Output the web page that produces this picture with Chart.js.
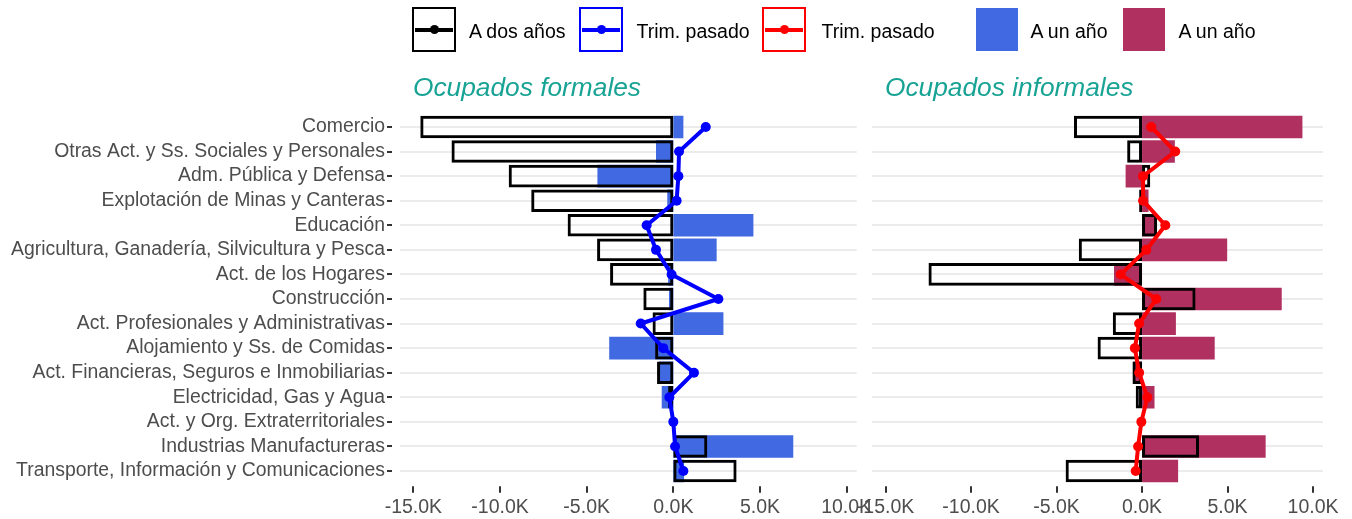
<!DOCTYPE html>
<html>
<head>
<meta charset="utf-8">
<script src="https://cdn.jsdelivr.net/npm/chart.js@4.4.1/dist/chart.umd.min.js"></script>
<style>
html,body{margin:0;padding:0;background:#fff;width:1352px;height:519px;overflow:hidden;font-family:'Liberation Sans',Arial,sans-serif;}
#wrap{position:relative;width:1352px;height:519px;}
canvas{position:absolute;left:0;top:0;}
.key{position:absolute;top:7px;width:44px;height:45px;box-sizing:border-box;}
.key.ln{border:2px solid;}
.key .bar{position:absolute;left:1px;right:1px;top:50%;height:4px;margin-top:-2px;}
.key .dot{position:absolute;left:50%;top:50%;width:9px;height:9px;margin:-4.5px 0 0 -4.5px;border-radius:50%;}
.key.sq{top:8px;width:42px;height:43px;}
.lbl{position:absolute;top:19.7px;font-size:19.5px;line-height:22px;color:#000;white-space:nowrap;}
.title{position:absolute;top:72.5px;font-size:26.3px;line-height:28px;font-style:italic;color:#18a394;white-space:nowrap;}
</style>
</head>
<body>
<div id="wrap">
  <canvas id="cF" width="1352" height="519"></canvas>
  <canvas id="cI" width="1352" height="519"></canvas>

  <div class="key ln" style="left:412px;border-color:#000;"><div class="bar" style="background:#000"></div><div class="dot" style="background:#000"></div></div>
  <div class="lbl" style="left:469px;">A dos años</div>
  <div class="key ln" style="left:579px;border-color:#0000ff;"><div class="bar" style="background:#0000ff"></div><div class="dot" style="background:#0000ff"></div></div>
  <div class="lbl" style="left:636.5px;">Trim. pasado</div>
  <div class="key ln" style="left:762px;border-color:#ff0000;"><div class="bar" style="background:#ff0000"></div><div class="dot" style="background:#ff0000"></div></div>
  <div class="lbl" style="left:821.5px;">Trim. pasado</div>
  <div class="key sq" style="left:975.5px;background:#4169e1;"></div>
  <div class="lbl" style="left:1030.5px;">A un año</div>
  <div class="key sq" style="left:1123px;background:#b03060;"></div>
  <div class="lbl" style="left:1178.5px;">A un año</div>

  <div class="title" style="left:413px;">Ocupados formales</div>
  <div class="title" style="left:885px;">Ocupados informales</div>
</div>
<script>
// ---------- DATA (thousands of persons) ----------
const categories = [
  'Comercio',
  'Otras Act. y Ss. Sociales y Personales',
  'Adm. Pública y Defensa',
  'Explotación de Minas y Canteras',
  'Educación',
  'Agricultura, Ganadería, Silvicultura y Pesca',
  'Act. de los Hogares',
  'Construcción',
  'Act. Profesionales y Administrativas',
  'Alojamiento y Ss. de Comidas',
  'Act. Financieras, Seguros e Inmobiliarias',
  'Electricidad, Gas y Agua',
  'Act. y Org. Extraterritoriales',
  'Industrias Manufactureras',
  'Transporte, Información y Comunicaciones'
];
const formalUnAno   = [0.58, -1.0, -4.38, -0.35, 4.62, 2.5, -0.3, -0.25, 2.89, -3.7, -0.83, -0.67, 0, 6.92, 0.62];
const formalDosAnos = [-14.6, -12.8, -9.5, -8.2, -6.1, -4.4, -3.65, -1.73, -1.2, -1.05, -0.94, -0.3, 0, 1.96, 3.65];
const formalTrim    = [1.87, 0.33, 0.29, 0.19, -1.54, -1.0, -0.1, 2.6, -1.88, -0.58, 1.19, -0.23, 0.0, 0.1, 0.58];

const informalUnAno   = [9.38, 1.92, -0.96, 0.38, 0.79, 4.98, -1.64, 8.17, 1.98, 4.25, -0.5, 0.73, 0, 7.23, 2.11];
const informalDosAnos = [-3.98, -0.87, 0.48, -0.17, 0.88, -3.7, -12.49, 3.13, -1.71, -2.6, -0.56, -0.37, 0, 3.33, -4.47];
const informalTrim    = [0.54, 1.94, 0.06, 0.06, 1.36, 0.25, -1.25, 0.83, -0.17, -0.42, -0.17, 0.31, -0.04, -0.23, -0.37];

const xTickValues = [-15, -10, -5, 0, 5, 10];
const xTickLabels = ['-15.0K', '-10.0K', '-5.0K', '0.0K', '5.0K', '10.0K'];
const xMin = -15.8, xMax = 10.58;

// ---------- RENDER ----------
const FONT = "'Liberation Sans', Arial, sans-serif";

const tickMarks = {
  id: 'tickMarks',
  afterDraw(chart, args, opts) {
    const {ctx, chartArea, scales: {x, y}} = chart;
    ctx.save();
    ctx.strokeStyle = '#333333';
    ctx.lineWidth = 2;
    x.ticks.forEach(t => {
      const px = Math.round(x.getPixelForValue(t.value));
      ctx.beginPath(); ctx.moveTo(px, chartArea.bottom + 3); ctx.lineTo(px, chartArea.bottom + 9.5); ctx.stroke();
    });
    if (opts.yTicks) {
      y.ticks.forEach((t, i) => {
        const py = Math.round(y.getPixelForTick(i));
        ctx.beginPath(); ctx.moveTo(chartArea.left - 12.5, py); ctx.lineTo(chartArea.left - 7.5, py); ctx.stroke();
      });
    }
    ctx.restore();
  }
};

function makeChart(id, unAno, dosAnos, trim, fillColor, lineColor, showLabels, areaLeft, areaRight) {
  return new Chart(document.getElementById(id), {
    type: 'bar',
    data: {
      labels: categories,
      datasets: [
        {
          type: 'line', label: 'Trim. pasado', data: trim, indexAxis: 'y',
          borderColor: lineColor, backgroundColor: lineColor, borderWidth: 4,
          pointRadius: 5, pointBorderWidth: 0, pointBackgroundColor: lineColor,
          tension: 0, fill: false, order: 0, clip: false
        },
        {
          type: 'bar', label: 'A dos años', data: dosAnos,
          backgroundColor: 'rgba(0,0,0,0)', borderColor: '#000000', borderWidth: 3,
          borderSkipped: false, grouped: false, barPercentage: 0.92, categoryPercentage: 1, order: 1
        },
        {
          type: 'bar', label: 'A un año', data: unAno,
          backgroundColor: fillColor, borderWidth: 0,
          grouped: false, barPercentage: 0.92, categoryPercentage: 1, order: 2
        }
      ]
    },
    options: {
      indexAxis: 'y',
      responsive: false,
      animation: false,
      devicePixelRatio: 1,
      layout: { padding: { left: 0, top: 114.7, right: 1352 - areaRight, bottom: 0 } },
      plugins: { legend: { display: false }, tooltip: { enabled: false }, tickMarks: { yTicks: showLabels } },
      scales: {
        x: {
          type: 'linear', min: xMin, max: xMax,
          grid: { display: false, drawTicks: false },
          border: { display: false },
          ticks: {
            autoSkip: false, maxRotation: 0, padding: 13, color: '#4D4D4D',
            font: { family: FONT, size: 19.5 },
            callback: (v) => xTickLabels[xTickValues.indexOf(v)]
          },
          afterBuildTicks: (s) => { s.ticks = xTickValues.map(v => ({ value: v })); },
          afterFit: (s) => { s.height = 35.7; }
        },
        y: {
          type: 'category', offset: true,
          grid: { display: true, offset: false, drawTicks: false, color: '#EBEBEB', lineWidth: 2 },
          border: { display: false },
          ticks: {
            display: showLabels, autoSkip: false, padding: 14.5, color: '#4D4D4D',
            font: { family: FONT, size: 19.4 }
          },
          afterFit: (s) => { s.width = areaLeft; }
        }
      }
    },
    plugins: [tickMarks]
  });
}

makeChart('cF', formalUnAno, formalDosAnos, formalTrim, '#4169E1', '#0000FF', true, 399.5, 856.7);
makeChart('cI', informalUnAno, informalDosAnos, informalTrim, '#B03060', '#FF0000', false, 871.9, 1329.1);
</script>
</body>
</html>
